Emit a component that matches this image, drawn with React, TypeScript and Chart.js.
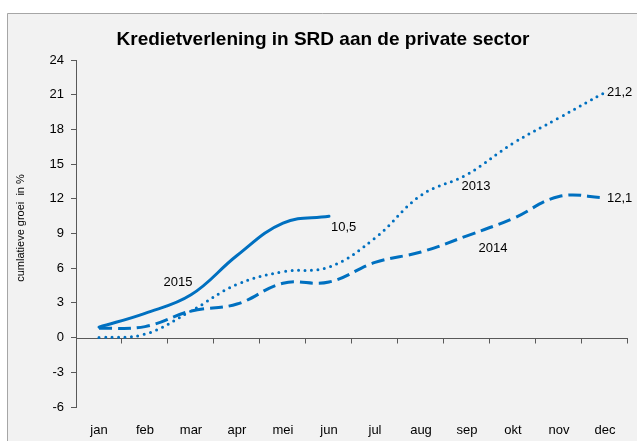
import React, { useEffect, useRef } from "react";
import { Chart, registerables } from "chart.js";

Chart.register(...registerables);

const months = ["jan", "feb", "mar", "apr", "mei", "jun", "jul", "aug", "sep", "okt", "nov", "dec"];
const growth2013 = [0.0, 0.3, 2.3, 4.6, 5.7, 6.1, 8.6, 12.3, 14.1, 16.8, 19.0, 21.2];
const growth2014 = [0.8, 0.95, 2.3, 2.9, 4.7, 4.8, 6.5, 7.4, 8.8, 10.3, 12.2, 12.1];
const growth2015 = [0.9, 2.1, 3.7, 7.1, 9.9, 10.5];
const yMin = -6;
const yMax = 24;
const yStep = 3;
const chartTitle = "Kredietverlening in SRD aan de private sector";
const yTitle = "cumlatieve groei  in %";

// text labels attached to data points (dataset index, point index, pixel offset)
const pointLabels = [
  { text: "2015", ds: 2, idx: 2, dx: -13, dy: -12, align: "center" },
  { text: "10,5", ds: 2, idx: 5, dx: 2, dy: 11, align: "left" },
  { text: "2013", ds: 0, idx: 8, dx: 9, dy: 12, align: "center" },
  { text: "21,2", ds: 0, idx: 11, dx: 2, dy: 0, align: "left" },
  { text: "2014", ds: 1, idx: 8, dx: 26, dy: 13, align: "center" },
  { text: "12,1", ds: 1, idx: 11, dx: 2, dy: 1, align: "left" },
];

const BLUE = "#0070C0";
const AXIS = "#595959";
const FONT = "'Liberation Sans', Arial, sans-serif";

const decorPlugin = {
  id: "decor",
  beforeDraw(chart: any) {
    const ctx = chart.ctx;
    ctx.save();
    ctx.fillStyle = "#ffffff";
    ctx.fillRect(0, 0, chart.width, chart.height);
    ctx.fillStyle = "#f2f2f2";
    ctx.fillRect(7, 13, chart.width - 7, chart.height - 13);
    ctx.strokeStyle = "#a6a6a6";
    ctx.lineWidth = 1;
    ctx.beginPath();
    ctx.moveTo(7.5, chart.height);
    ctx.lineTo(7.5, 13.5);
    ctx.lineTo(chart.width, 13.5);
    ctx.stroke();
    ctx.restore();
  },
  beforeDatasetsDraw(chart: any) {
    const ctx = chart.ctx;
    const { left, right } = chart.chartArea;
    const y0 = Math.round(chart.scales.y.getPixelForValue(0)) + 0.5;
    const n = months.length;
    const w = (right - left) / n;
    ctx.save();
    ctx.strokeStyle = AXIS;
    ctx.lineWidth = 1;
    ctx.beginPath();
    ctx.moveTo(left, y0);
    ctx.lineTo(right, y0);
    for (let k = 1; k <= n; k++) {
      const x = Math.round(left + k * w) - 0.5;
      ctx.moveTo(x, y0);
      ctx.lineTo(x, y0 + 5);
    }
    ctx.stroke();
    ctx.restore();
  },
  afterDraw(chart: any) {
    const ctx = chart.ctx;
    ctx.save();
    ctx.fillStyle = "#000000";
    ctx.textBaseline = "middle";
    ctx.font = `bold 19px ${FONT}`;
    ctx.textAlign = "center";
    ctx.fillText(chartTitle, 323, 40);

    ctx.font = `11px ${FONT}`;
    ctx.save();
    ctx.translate(21, 228);
    ctx.rotate(-Math.PI / 2);
    ctx.fillText(yTitle, 0, 0);
    ctx.restore();

    ctx.font = `13px ${FONT}`;
    for (const l of pointLabels) {
      const meta = chart.getDatasetMeta(l.ds);
      const pt = meta.data[l.idx];
      if (!pt) continue;
      ctx.textAlign = l.align as CanvasTextAlign;
      ctx.fillText(l.text, pt.x + l.dx, pt.y + l.dy);
    }
    ctx.restore();
  },
};

export default function App() {
  const ref = useRef<HTMLCanvasElement>(null);
  useEffect(() => {
    if (!ref.current) return;
    const chart = new Chart(ref.current, {
      type: "line",
      data: {
        labels: months,
        datasets: [
          {
            label: "2013",
            data: growth2013,
            borderColor: BLUE,
            borderWidth: 3,
            borderDash: [0, 6.5],
            borderCapStyle: "round",
            pointRadius: 0,
            tension: 0.4,
            fill: false,
          },
          {
            label: "2014",
            data: growth2014,
            borderColor: BLUE,
            borderWidth: 3,
            borderDash: [13, 6],
            borderCapStyle: "butt",
            pointRadius: 0,
            tension: 0.4,
            fill: false,
          },
          {
            label: "2015",
            data: growth2015,
            borderColor: BLUE,
            borderWidth: 3,
            borderCapStyle: "round",
            pointRadius: 0,
            tension: 0.4,
            fill: false,
          },
        ],
      },
      options: {
        animation: false,
        responsive: false,
        maintainAspectRatio: false,
        layout: { padding: { left: 0, right: 9, top: 60, bottom: 0 } },
        plugins: {
          legend: { display: false },
          title: { display: false },
          tooltip: { enabled: false },
        },
        scales: {
          x: {
            offset: true,
            grid: { display: false },
            border: { display: false },
            afterFit: (s: any) => {
              s.height = 34;
            },
            ticks: {
              color: "#000000",
              padding: 8,
              maxRotation: 0,
              autoSkip: false,
              font: { family: FONT, size: 13 },
            },
          },
          y: {
            min: yMin,
            max: yMax,
            afterFit: (s: any) => {
              s.width = 76;
            },
            grid: {
              drawOnChartArea: false,
              drawTicks: true,
              tickLength: 5,
              color: AXIS,
            },
            border: { display: true, color: AXIS, width: 1 },
            ticks: {
              stepSize: yStep,
              color: "#000000",
              padding: 7,
              font: { family: FONT, size: 13 },
            },
          },
        },
      },
      plugins: [decorPlugin],
    });
    return () => chart.destroy();
  }, []);
  return (
    <div style={{ position: "fixed", left: 0, top: 0, width: 637, height: 441 }}>
      <canvas ref={ref} width={637} height={441} style={{ width: 637, height: 441, display: "block" }} />
    </div>
  );
}
